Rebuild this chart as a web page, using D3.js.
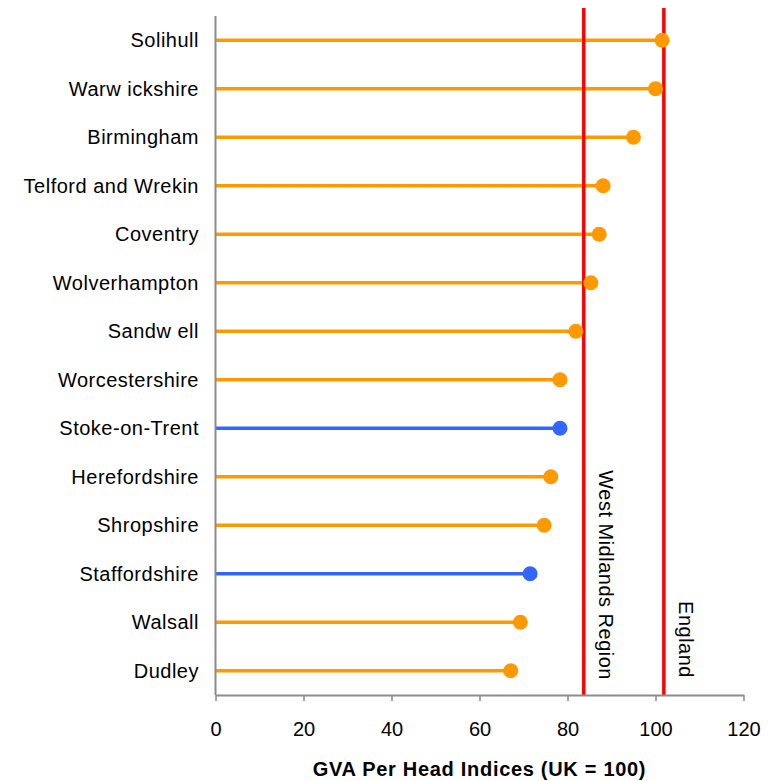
<!DOCTYPE html>
<html>
<head>
<meta charset="utf-8">
<script src="https://cdn.jsdelivr.net/npm/d3@7"></script>
<style>
  html, body { margin: 0; padding: 0; background: #fff; }
  svg { display: block; font-family: "Liberation Sans", Arial, sans-serif; }
</style>
</head>
<body>
<svg id="chart" width="772" height="781"></svg>
<script>
// Local authority areas, top to bottom
const areas = [
  "Solihull", "Warw ickshire", "Birmingham", "Telford and Wrekin", "Coventry",
  "Wolverhampton", "Sandw ell", "Worcestershire", "Stoke-on-Trent",
  "Herefordshire", "Shropshire", "Staffordshire", "Walsall", "Dudley"
];
// GVA per head index (UK = 100)
const gvaIndex = [101.5, 100.0, 95.0, 88.1, 87.2, 85.3, 81.9, 78.3, 78.3, 76.2, 74.7, 71.5, 69.3, 67.1];
// Areas drawn in the highlight colour
const highlighted = ["Stoke-on-Trent", "Staffordshire"];
// Reference benchmarks
const benchmarkNames = ["West Midlands Region", "England"];
const benchmarkValues = [83.7, 101.9];
const xTicks = [0, 20, 40, 60, 80, 100, 120];

const svg = d3.select("#chart");
const plotLeft = 215.5, plotRight = 743.5, plotTop = 16, plotBottom = 695;
const fontSize = 20;

const x = d3.scaleLinear().domain([0, 120]).range([plotLeft, plotRight]);
const y = d3.scaleBand().domain(areas).range([plotTop, plotBottom]).padding(0);

const orange = "#ff9900", blue = "#3366ff", red = "#ff0000", axisGrey = "#8c8c8c";

const rows = areas.map((a, i) => ({ name: a, value: gvaIndex[i], hi: highlighted.includes(a) }));

// Stems
svg.append("g").selectAll("line").data(rows).join("line")
  .attr("x1", x(0)).attr("x2", d => x(d.value))
  .attr("y1", d => y(d.name) + y.bandwidth() / 2)
  .attr("y2", d => y(d.name) + y.bandwidth() / 2)
  .attr("stroke", d => d.hi ? blue : orange)
  .attr("stroke-width", 3.5);

// Benchmark lines
svg.append("g").selectAll("line").data(benchmarkValues).join("line")
  .attr("x1", d => x(d)).attr("x2", d => x(d))
  .attr("y1", 8).attr("y2", plotBottom)
  .attr("stroke", red).attr("stroke-width", 3.5);

// Dots
svg.append("g").selectAll("circle").data(rows).join("circle")
  .attr("cx", d => x(d.value))
  .attr("cy", d => y(d.name) + y.bandwidth() / 2)
  .attr("r", 7.5)
  .attr("fill", d => d.hi ? blue : orange);

// Benchmark labels, vertical
svg.append("g").selectAll("text").data(benchmarkValues).join("text")
  .attr("transform", (d, i) => `translate(${x(d) + 15},${i === 0 ? 680 : 678}) rotate(90)`)
  .attr("text-anchor", "end")
  .attr("font-size", fontSize)
  .attr("letter-spacing", 0.5)
  .attr("fill", "#000")
  .text((d, i) => benchmarkNames[i]);

// Y axis line and category labels
svg.append("line")
  .attr("x1", plotLeft).attr("x2", plotLeft).attr("y1", plotTop).attr("y2", plotBottom)
  .attr("stroke", axisGrey).attr("stroke-width", 2);

svg.append("g").selectAll("text").data(areas).join("text")
  .attr("x", 199)
  .attr("y", d => y(d) + y.bandwidth() / 2)
  .attr("dy", "0.35em")
  .attr("text-anchor", "end")
  .attr("font-size", fontSize)
  .attr("letter-spacing", 0.5)
  .attr("fill", "#000")
  .text(d => d);

// X axis
const xAxis = svg.append("g")
  .attr("transform", `translate(0,${plotBottom})`)
  .call(d3.axisBottom(x).tickValues(xTicks).tickSize(6).tickSizeOuter(0).tickPadding(21));
xAxis.select(".domain").attr("stroke", axisGrey).attr("stroke-width", 2);
xAxis.selectAll(".tick line").attr("stroke", axisGrey).attr("stroke-width", 1.5);
xAxis.selectAll(".tick text")
  .attr("font-size", fontSize)
  .attr("font-family", "Liberation Sans, Arial, sans-serif")
  .attr("fill", "#000");

// Axis title
svg.append("text")
  .attr("x", (plotLeft + plotRight) / 2)
  .attr("y", 776)
  .attr("text-anchor", "middle")
  .attr("font-size", fontSize)
  .attr("font-weight", "bold")
  .attr("letter-spacing", 0.7)
  .attr("fill", "#000")
  .text("GVA Per Head Indices (UK = 100)");
</script>
</body>
</html>
